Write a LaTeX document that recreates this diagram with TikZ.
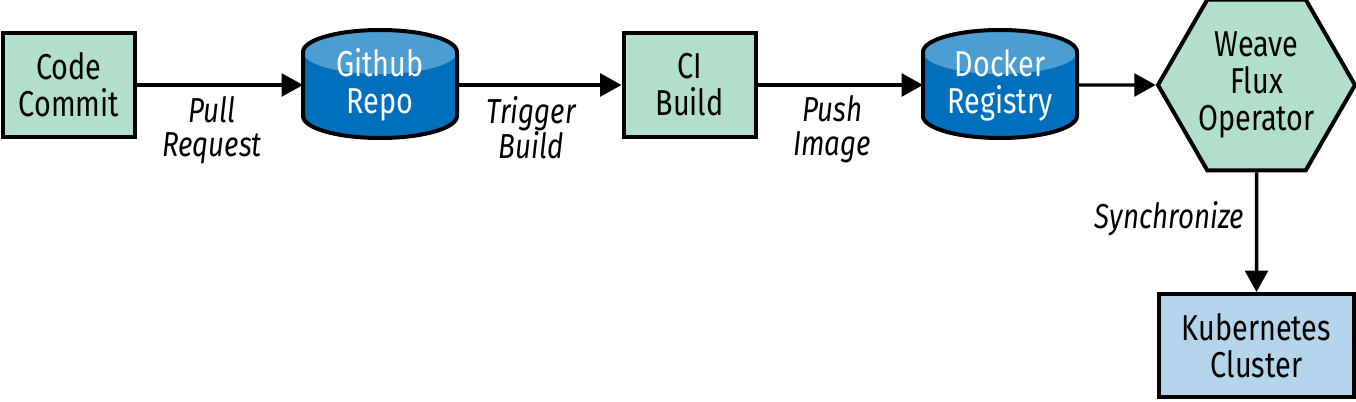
\documentclass[tikz,border=0pt]{standalone}
\usepackage{fontspec}
\setmainfont{Fira Sans}[FakeStretch=0.8]
\usetikzlibrary{arrows.meta,shapes.geometric}
\definecolor{boxgreen}{RGB}{178,223,201}
\definecolor{kblue}{RGB}{179,212,234}
\definecolor{cyltopc}{RGB}{75,157,210}
\definecolor{cylbodyc}{RGB}{0,112,188}
\newcommand\ndfont{\fontsize{27}{27.75}\selectfont}
\newcommand\lbfont{\fontsize{26}{25.5}\selectfont\itshape}
\newcommand\drawcyl[3]{%
  \fill[cylbodyc] (#1-77,-52) -- (#1-77,-116) arc[start angle=180,end angle=360,x radius=77,y radius=22] -- (#1+77,-52) -- cycle;
  \fill[cyltopc] (#1,-52) ellipse[x radius=77,y radius=22];
  \draw[line width=3pt,line join=round] (#1-77,-52) -- (#1-77,-116) arc[start angle=180,end angle=360,x radius=77,y radius=22] -- (#1+77,-52) arc[start angle=0,end angle=180,x radius=77,y radius=22] -- cycle;
  \node[cyltext] (#2) at (#1,-85) {#3};
}
\begin{document}
\begin{tikzpicture}[x=0.75pt,y=0.75pt,
  procbox/.style={draw=black,line width=3pt,fill=boxgreen,minimum width=99pt,minimum height=78pt,inner sep=0pt,align=center,font=\ndfont},
  kbox/.style={procbox,fill=kblue,minimum width=146.25pt,minimum height=77.25pt},
  hexbox/.style={draw=black,line width=3pt,fill=boxgreen,regular polygon,regular polygon sides=6,minimum size=147.75pt,inner sep=0pt,align=center,font=\ndfont},
  cyltext/.style={minimum width=115.5pt,minimum height=81pt,inner sep=0pt,outer sep=0pt,align=center,font=\ndfont,text=white},
  flow/.style={line width=2.6pt,-{Triangle[length=16pt,width=17pt]}},
  lbl/.style={font=\lbfont,align=center,inner sep=0pt}]
\useasboundingbox (0,0) rectangle (1356,-402);
\node[procbox] (cc) at (69,-85) {Code\\Commit};
\drawcyl{380}{gh}{Github\\Repo}
\node[procbox] (ci) at (689.5,-85) {CI\\Build};
\drawcyl{1000}{dr}{Docker\\Registry}
\node[hexbox] (wf) at (1256.5,-85) {Weave\\Flux\\Operator};
\node[kbox] (k8s) at (1256.5,-345.5) {Kubernetes\\Cluster};
\draw[flow] (cc.east) -- (gh.west) node[lbl,midway,below=7pt,xshift=-6pt] {Pull\\Request};
\draw[flow] (gh.east) -- (ci.west) node[lbl,midway,below=7pt,xshift=-6pt] {Trigger\\Build};
\draw[flow] (ci.east) -- (dr.west) node[lbl,midway,below=7pt,xshift=-6pt] {Push\\Image};
\draw[flow] (dr.east) -- (wf.west);
\draw[flow] (wf.south) -- (k8s.north) node[lbl,midway,left=8pt,yshift=10pt] {Synchronize};
\end{tikzpicture}
\end{document}
